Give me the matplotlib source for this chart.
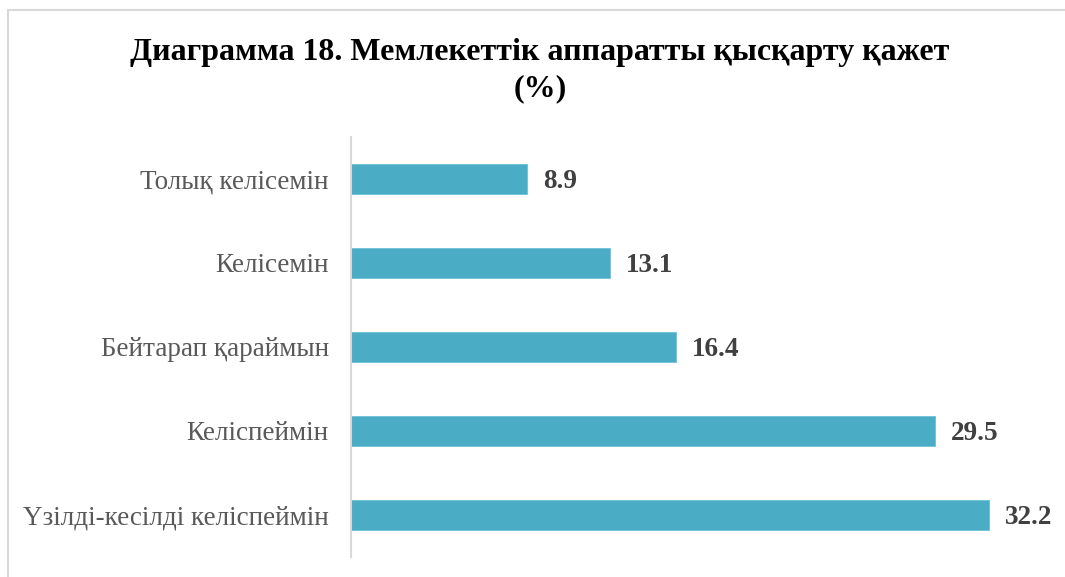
import matplotlib.pyplot as plt
from matplotlib.patches import Rectangle

categories = ['Толық келісемін', 'Келісемін', 'Бейтарап қараймын',
              'Келіспеймін', 'Үзілді-кесілді келіспеймін']
values = [8.9, 13.1, 16.4, 29.5, 32.2]
title = 'Диаграмма 18. Мемлекеттік аппаратты қысқарту қажет\n(%)'

plt.rcParams['font.family'] = ['Liberation Serif', 'DejaVu Serif']

fig = plt.figure(figsize=(10.65, 5.77), dpi=100)
# light frame around the chart area
fig.patches.append(Rectangle((8 / 1065, -0.05), 1.1, (577 - 10) / 577 + 0.05,
                             transform=fig.transFigure, fill=False,
                             edgecolor='#d9d9d9', linewidth=1.5))

ax = fig.add_axes([351 / 1065, 20 / 577, (1044 - 351) / 1065, 420 / 577])
pos = list(range(len(categories)))
ax.barh(pos, values, height=0.35, color='#4bacc6', edgecolor='#6cc0d6', linewidth=0.6)
ax.set_yticks(pos)
ax.set_yticklabels(categories, fontsize=19.5, color='#595959')
ax.set_ylim(-0.5, len(categories) - 0.5)
ax.invert_yaxis()
ax.set_xlim(0, 35)
ax.set_xticks([])
ax.tick_params(axis='y', length=0, pad=16)
for s in ['top', 'right', 'bottom']:
    ax.spines[s].set_visible(False)
ax.spines['left'].set_color('#d9d9d9')
ax.spines['left'].set_linewidth(1.5)

for p, v in zip(pos, values):
    ax.annotate(f'{v:.1f}', (v, p), xytext=(11.5, -2), textcoords='offset points',
                va='center', ha='left', fontsize=19.5, fontweight='bold', color='#404040')

fig.text(540 / 1065, 1 - 38 / 577, title, ha='center', va='top', fontsize=23,
         fontweight='bold', color='black', linespacing=1.32)

fig.savefig('out.png', dpi=100)
